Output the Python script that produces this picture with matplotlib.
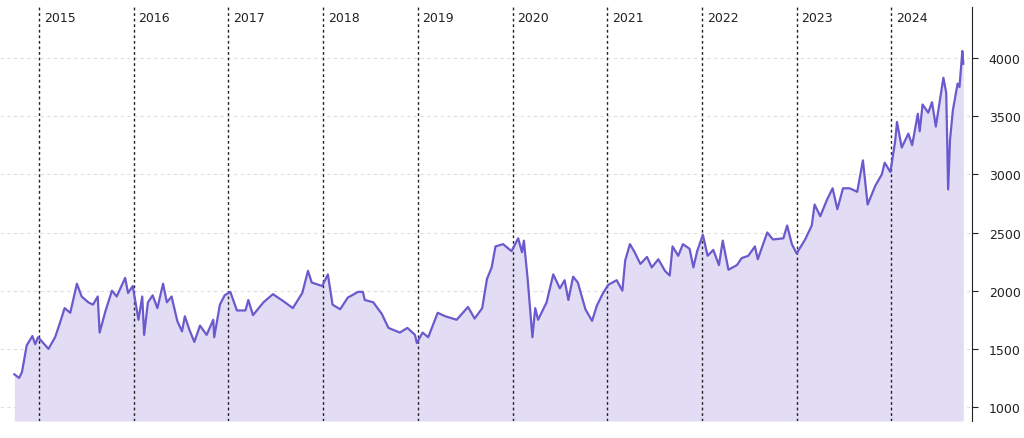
import matplotlib
matplotlib.use("Agg")
import matplotlib.pyplot as plt

dates = [2014.74,2014.79,2014.82,2014.87,2014.93,2014.96,2014.99,2015.10,2015.17,2015.22,2015.27,2015.33,
2015.40,2015.45,2015.52,2015.57,2015.62,2015.64,2015.70,2015.77,2015.82,2015.91,2015.94,2015.99,2016.05,
2016.09,2016.11,2016.15,2016.20,2016.25,2016.31,2016.35,2016.40,2016.46,2016.51,2016.54,2016.59,2016.64,
2016.70,2016.77,2016.84,2016.85,2016.91,2016.96,2017.02,2017.09,2017.18,2017.21,2017.26,2017.37,2017.47,
2017.58,2017.68,2017.78,2017.84,2017.88,2017.99,2018.05,2018.10,2018.18,2018.26,2018.37,2018.42,2018.44,
2018.53,2018.62,2018.69,2018.81,2018.89,2018.97,2018.99,2019.05,2019.11,2019.21,2019.29,2019.41,2019.53,
2019.60,2019.68,2019.73,2019.78,2019.82,2019.90,2019.99,2020.06,2020.10,2020.12,2020.16,2020.21,2020.24,
2020.27,2020.36,2020.43,2020.50,2020.55,2020.59,2020.64,2020.69,2020.77,2020.84,2020.89,2020.95,2021.01,
2021.10,2021.16,2021.19,2021.24,2021.29,2021.35,2021.42,2021.47,2021.54,2021.61,2021.66,2021.69,2021.75,
2021.80,2021.87,2021.91,2021.95,2022.01,2022.06,2022.12,2022.18,2022.22,2022.28,2022.37,2022.42,2022.49,
2022.56,2022.59,2022.69,2022.75,2022.86,2022.90,2022.95,2023.00,2023.09,2023.16,2023.19,2023.25,2023.32,
2023.38,2023.43,2023.49,2023.56,2023.64,2023.70,2023.75,2023.83,2023.90,2023.93,2023.99,2024.04,2024.06,
2024.11,2024.18,2024.22,2024.28,2024.30,2024.33,2024.39,2024.43,2024.47,2024.55,2024.58,2024.60,2024.62,
2024.65,2024.70,2024.72,2024.75,2024.76]
values = [1281,1250,1300,1530,1610,1540,1600,1500,1600,1720,1850,1810,
2060,1950,1900,1880,1950,1640,1820,2000,1950,2110,1980,2040,1750,
1950,1620,1900,1960,1850,2060,1900,1950,1740,1650,1780,1660,1560,
1700,1620,1750,1600,1880,1960,1990,1830,1830,1920,1790,1900,1970,
1910,1850,1980,2170,2070,2040,2140,1880,1840,1940,1990,1990,1920,
1900,1800,1680,1640,1680,1620,1550,1640,1600,1810,1780,1750,1860,
1760,1850,2100,2200,2380,2400,2340,2450,2330,2430,2100,1600,1850,
1750,1900,2140,2020,2090,1920,2120,2070,1840,1740,1870,1970,2050,
2090,2000,2260,2400,2330,2230,2290,2200,2270,2170,2130,2380,
2300,2400,2360,2200,2340,2480,2300,2350,2220,2430,2180,2220,2280,
2300,2380,2270,2500,2440,2450,2560,2400,2320,2440,2560,2740,2640,
2780,2880,2700,2880,2880,2850,3120,2740,2900,3000,3100,3020,3280,
3450,3230,3350,3250,3520,3370,3600,3530,3620,3410,3830,3700,2870,
3300,3550,3780,3750,4060,3950]
years = list(range(2015, 2025))
yticks = [1000, 1500, 2000, 2500, 3000, 3500, 4000]

fig = plt.figure(figsize=(10.24, 4.39), dpi=100)
ax = fig.add_axes([0.0, 1 - 422/439, 972/1024, (422-8)/439])
ax.set_xlim(2014.588, 2024.852)
ax.set_ylim(880, 4438)
ymin = ax.get_ylim()[0]
ax.fill_between(dates, values, ymin, color="#e2ddf5", lw=0, zorder=1)
ax.plot(dates, values, color="#6a5acd", lw=1.6, zorder=3)
for y in years:
    ax.axvline(y, color="#222222", lw=1, ls=(0, (2, 2)), zorder=2)
    ax.text(y + 0.05, 0.975, str(y), transform=ax.get_xaxis_transform(),
            ha="left", va="center", fontsize=9, color="#222222")
ax.set_yticks(yticks)
ax.set_yticklabels([str(v) for v in yticks])
ax.grid(axis="y", color="#dedede", ls=(0, (3, 3)), lw=0.8)
ax.set_axisbelow(True)
ax.yaxis.tick_right()
ax.tick_params(axis="y", labelsize=9, length=4, pad=8, color="#222222", labelcolor="#222222")
ax.set_xticks([])
for s in ["top", "left", "bottom"]:
    ax.spines[s].set_visible(False)
ax.spines["right"].set_color("#222222")
fig.savefig("out.png", dpi=100)
